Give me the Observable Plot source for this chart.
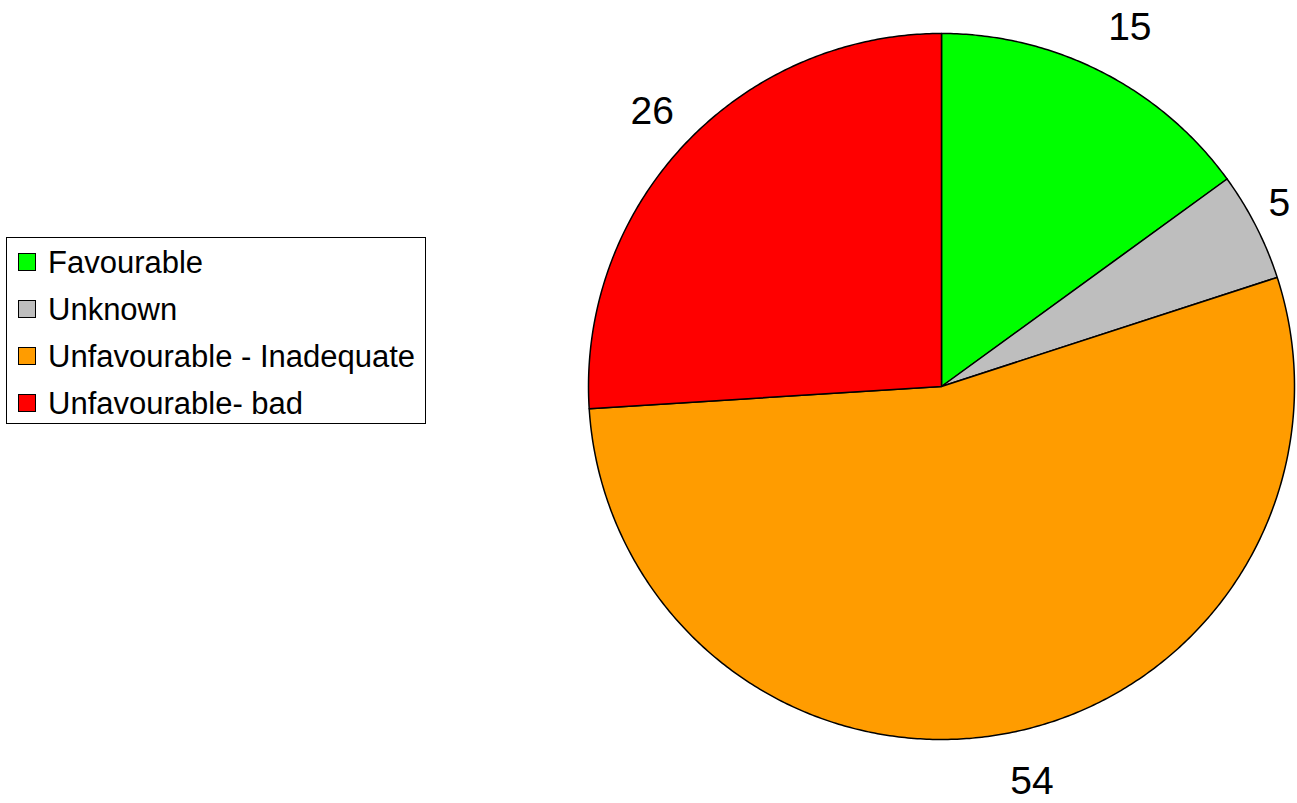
<!DOCTYPE html>
<html>
<head>
<meta charset="utf-8">
<script src="https://cdn.jsdelivr.net/npm/d3@7"></script>
<script src="https://cdn.jsdelivr.net/npm/@observablehq/plot@0.6"></script>
<style>
  html, body { margin: 0; padding: 0; background: #fff; }
  #wrap { position: relative; width: 1297px; height: 803px; overflow: hidden; font-family: "Liberation Sans", Arial, sans-serif; }
  #legend { position: absolute; left: 6px; top: 237px; width: 418px; height: 185px; border: 1.5px solid #000; box-sizing: content-box; }
  .sw { position: absolute; left: 11px; width: 16px; height: 16px; border: 1.5px solid #000; }
  .lab { position: absolute; left: 41px; font-size: 31px; color: #000; white-space: nowrap; line-height: 30px; }
</style>
</head>
<body>
<div id="wrap">
  <div id="chart"></div>
  <div id="legend"></div>
</div>
<script>
const categories = ["Favourable", "Unknown", "Unfavourable - Inadequate", "Unfavourable- bad"];
const values = [15, 5, 54, 26];
const labels = ["15", "5", "54", "26"];
const colors = ["#00ff00", "#bebebe", "#ff9c00", "#ff0000"];

const W = 1297, H = 803;
const cx = 941, cy = 386, R = 353;

const total = d3.sum(values);
// angles clockwise from 12 o'clock
let acc = 0;
const slices = categories.map((c, i) => {
  const a0 = acc / total * 2 * Math.PI;
  acc += values[i];
  const a1 = acc / total * 2 * Math.PI;
  return {cat: c, value: values[i], label: labels[i], a0, a1, mid: (a0 + a1) / 2};
});

const pts = [];
for (const s of slices) {
  pts.push({cat: s.cat, x: 0, y: 0});
  const n = Math.max(2, Math.ceil((s.a1 - s.a0) / (Math.PI / 360)));
  for (let k = 0; k <= n; k++) {
    const a = s.a0 + (s.a1 - s.a0) * k / n;
    pts.push({cat: s.cat, x: Math.sin(a), y: Math.cos(a)});
  }
}

const rightSide = slices.filter(d => Math.sin(d.mid) >= 0);
const leftSide = slices.filter(d => Math.sin(d.mid) < 0);
const textOpts = {
  x: d => 1.04 * Math.sin(d.mid),
  y: d => 1.14 * Math.cos(d.mid),
  text: "label",
  fontSize: 39,
  fontFamily: "Liberation Sans, Arial, sans-serif",
  fill: "#000"
};

const chart = Plot.plot({
  width: W,
  height: H,
  margin: 0,
  style: {background: "transparent", overflow: "visible"},
  x: {domain: [-cx / R, (W - cx) / R], range: [0, W], axis: null},
  y: {domain: [-(H - cy) / R, cy / R], range: [H, 0], axis: null},
  color: {domain: categories, range: colors},
  marks: [
    Plot.line(pts, {x: "x", y: "y", z: "cat", fill: "cat", stroke: "#000", strokeWidth: 1.5, curve: "linear-closed"}),
    Plot.text(rightSide, {...textOpts, textAnchor: "start"}),
    Plot.text(leftSide, {...textOpts, textAnchor: "end"})
  ]
});
document.getElementById("chart").appendChild(chart);

const legend = document.getElementById("legend");
categories.forEach((c, i) => {
  const top = 10 + i * 47;
  const sw = document.createElement("div");
  sw.className = "sw";
  sw.style.top = (top + 5) + "px";
  sw.style.background = colors[i];
  legend.appendChild(sw);
  const lab = document.createElement("div");
  lab.className = "lab";
  lab.style.top = top + "px";
  lab.textContent = c;
  legend.appendChild(lab);
});
</script>
</body>
</html>
